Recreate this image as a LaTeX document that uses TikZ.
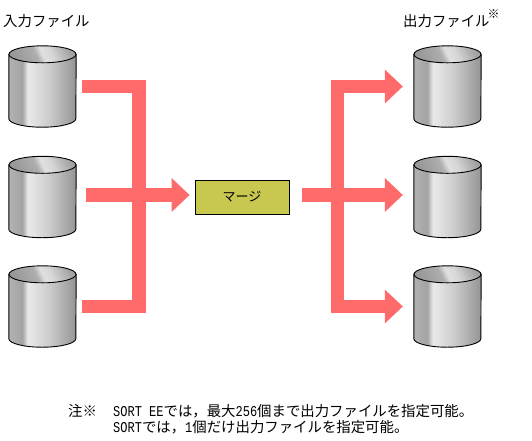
\documentclass[tikz,border=0pt]{standalone}
\usepackage{fontspec}
\setmainfont{Noto Sans CJK JP}
\newfontfamily\latinmono[FakeStretch=0.8]{Liberation Mono}
\usepackage{xcolor}
\usepackage{tikz}
\usetikzlibrary{positioning,arrows.meta,calc}
\definecolor{crosa}{HTML}{FF6B6B}
\definecolor{coliva}{HTML}{C8C850}
\pgfdeclarehorizontalshading{cuerpocil}{100bp}{
  color(0bp)=(black!30); color(25bp)=(black!30); color(35bp)=(black!36);
  color(39bp)=(black!9); color(43bp)=(black!11); color(55bp)=(black!20);
  color(75bp)=(black!42); color(100bp)=(black!42)}
\pgfdeclarehorizontalshading{tapacil}{100bp}{
  color(0bp)=(black!40); color(25bp)=(black!40); color(44bp)=(black!32);
  color(50bp)=(black!12); color(58bp)=(black!16); color(75bp)=(black!36); color(100bp)=(black!36)}
\newcommand{\hw}[1]{{\latinmono\fontsize{15pt}{16pt}\selectfont #1}}
\tikzset{
  cilindro/.style={rectangle, minimum width=67pt, minimum height=81pt, inner sep=0pt},
  cuerpo/.style={draw=black, line width=0.9pt, shading=cuerpocil},
  tapa/.style={draw=black, line width=0.9pt, shading=tapacil, shading angle=25},
  caja/.style={rectangle, draw=black, line width=0.9pt, fill=coliva,
    minimum width=94pt, minimum height=34pt, inner sep=0pt, font=\fontsize{13pt}{16pt}\selectfont},
  tubo/.style={draw=crosa, line width=13.7pt, line join=miter},
  flecha/.style={tubo, -{Triangle[length=18pt, width=34pt, line width=0pt]}},
  etq/.style={inner sep=0pt, anchor=west, font=\fontsize{14.4pt}{16pt}\selectfont},
}
\begin{document}
\begin{tikzpicture}[x=1pt, y=-1pt]
  \useasboundingbox (0,0) rectangle (532,440);
  \node[cilindro] (ent1) at (42.5,86.5) {};
  \node[cilindro] (ent2) at (42.5,197) {};
  \node[cilindro] (ent3) at (42.5,306.5) {};
  \node[cilindro] (sal1) at (447.5,86.5) {};
  \node[cilindro] (sal2) at (447.5,197) {};
  \node[cilindro] (sal3) at (447.5,306.5) {};
  \foreach \n in {ent1,ent2,ent3,sal1,sal2,sal3} {
    \draw[cuerpo] ($(\n.north west)+(0,8.5)$) -- ($(\n.south west)+(0,-8.5)$)
      arc [start angle=180, end angle=0, x radius=33.5, y radius=8.5] -- ($(\n.north east)+(0,8.5)$) -- cycle;
    \draw[tapa] ($(\n.north)+(0,8.5)$) ellipse [x radius=33.5, y radius=8.5];
  }
  \node[caja] (merge) at (242,197) {マージ};
  \coordinate (busi) at (139,195);
  \coordinate (busd) at (337.5,195);
  \draw[tubo] ([xshift=6pt]ent1.east) -| (busi) |- ([xshift=6pt]ent3.east);
  \draw[flecha] ([xshift=10pt,yshift=2pt]ent2.east) -- ([xshift=-5pt,yshift=2pt]merge.west);
  \draw[tubo] ([xshift=13pt,yshift=2pt]merge.east) -- (busd);
  \draw[flecha] (busd) |- ([xshift=-11pt]sal1.west);
  \draw[flecha] (busd) -- ([xshift=-11pt,yshift=2pt]sal2.west);
  \draw[flecha] (busd) |- ([xshift=-11pt]sal3.west);
  \node[etq] (tent) at (3,21) {入力ファイル};
  \node[etq] (tsal) at (403,21) {出力ファイル};
  \node[inner sep=0pt, font=\fontsize{12pt}{14pt}\selectfont] (tmarca) at (493.5,14) {※};
  \node[etq] (nmarca) at (68,411) {注※};
  \node[etq, align=left, anchor=north west] (nota) at (113,404)
    {\hw{SORT EE}では，最大\hw{256}個まで出力ファイルを指定可能。\\\hw{SORT}では，\hw{1}個だけ出力ファイルを指定可能。};
\end{tikzpicture}
\end{document}
